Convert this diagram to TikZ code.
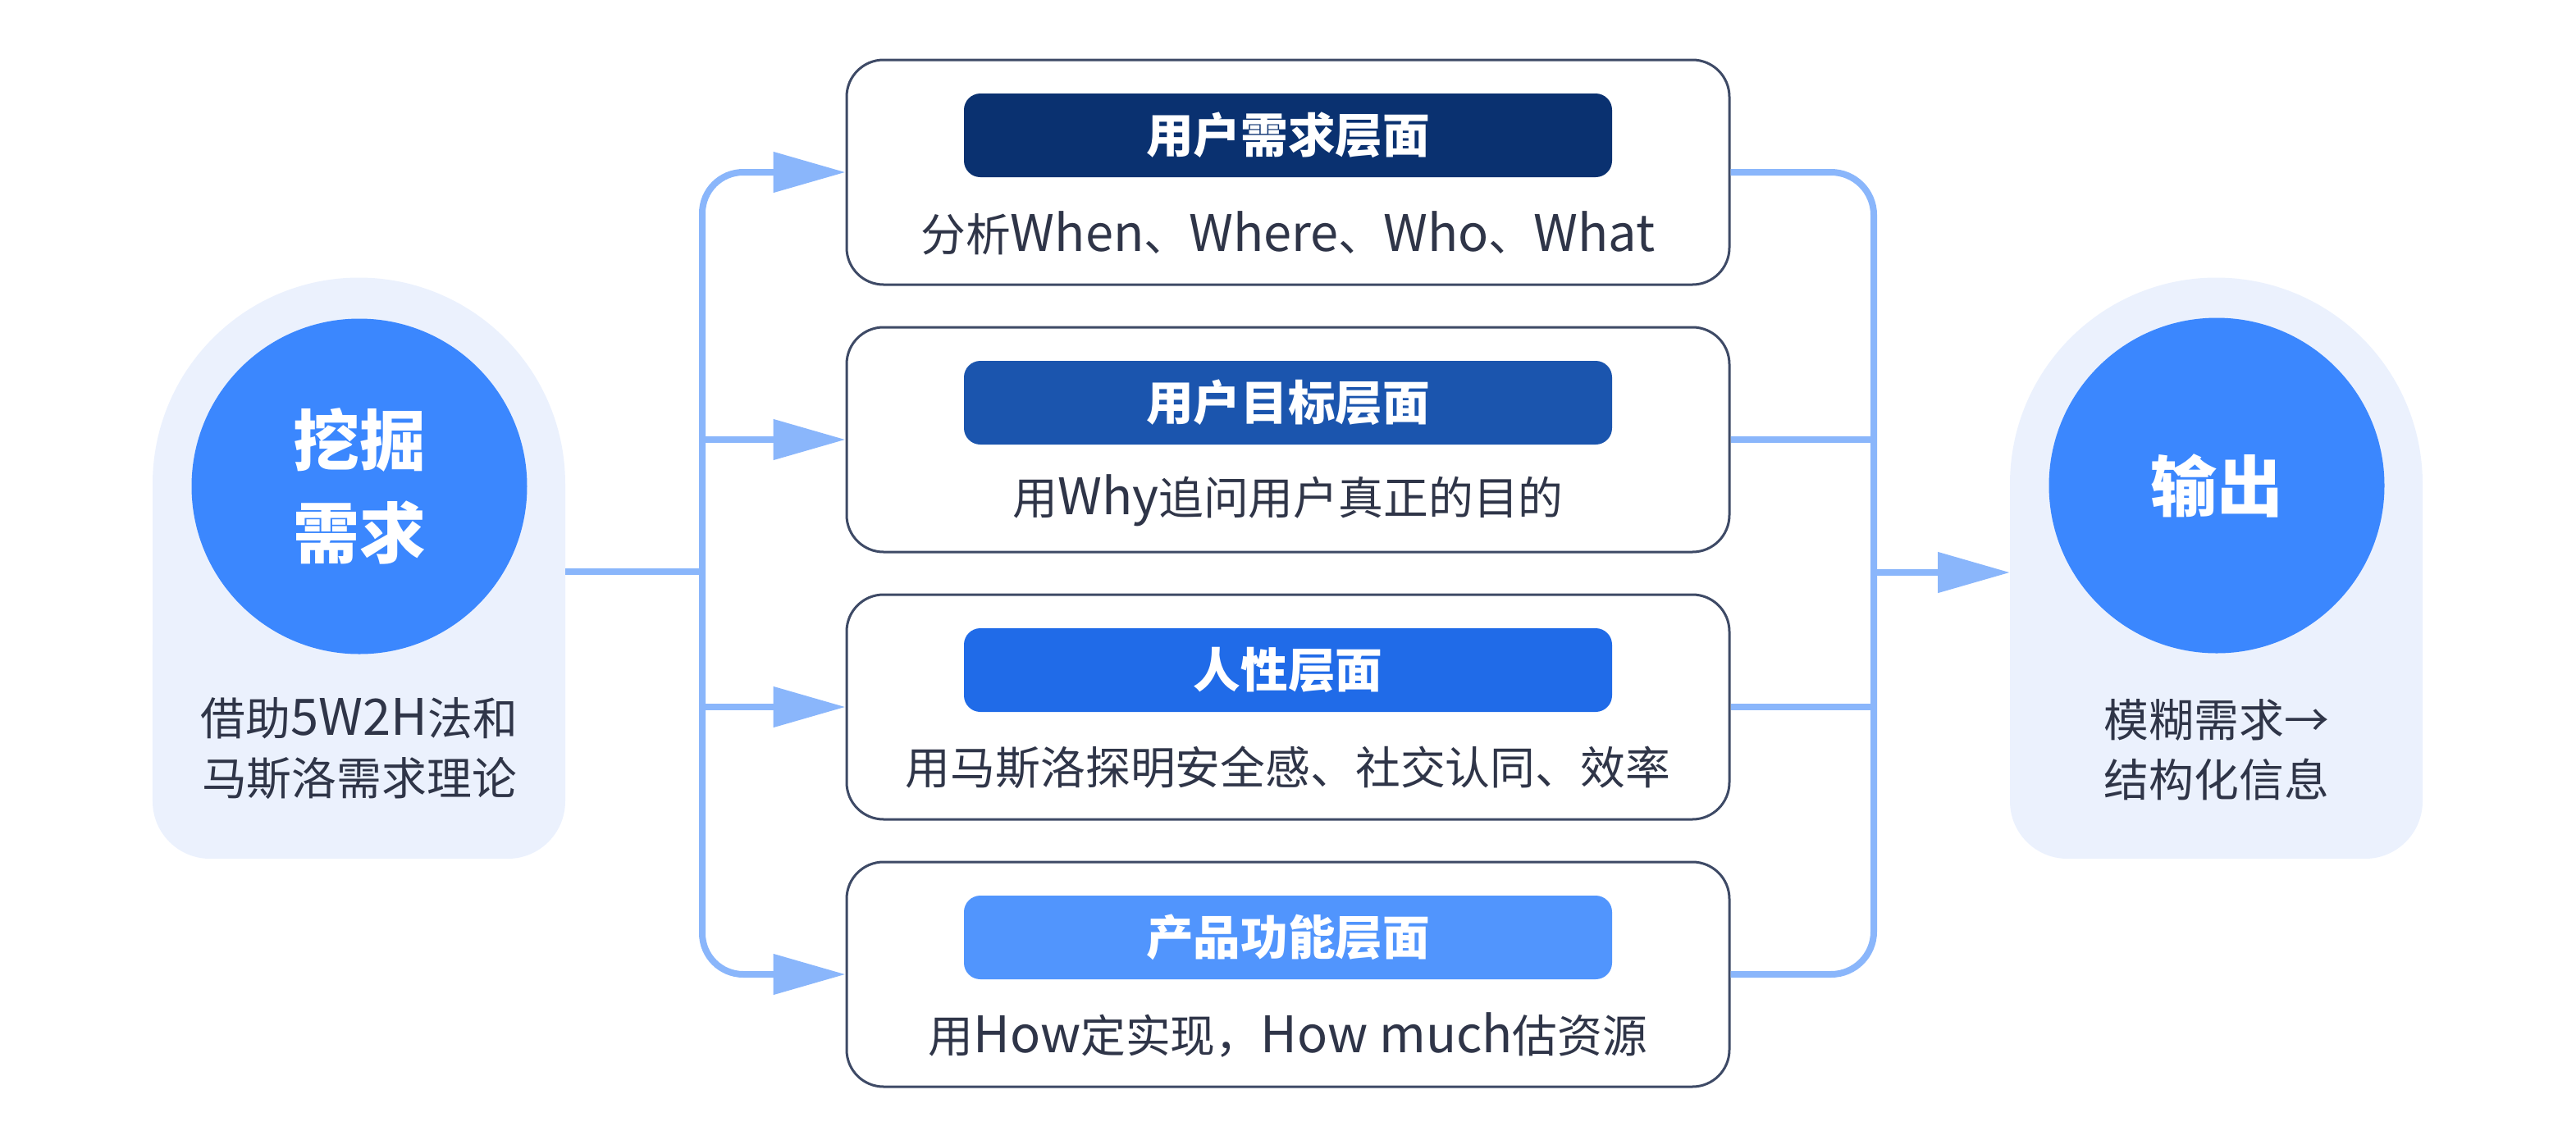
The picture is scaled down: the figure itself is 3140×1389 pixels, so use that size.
\documentclass[tikz,border=0pt]{standalone}
\usepackage{fontspec}
\setmainfont{Noto Sans CJK SC}
\newfontfamily\latfont{Noto Sans CJK SC}[Scale=1.12]
\newcommand\wordlat[1]{{\latfont #1}}
\usetikzlibrary{positioning,arrows.meta}

\definecolor{ink}{HTML}{2F3548}
\definecolor{edge}{HTML}{3E4A66}
\definecolor{linkblue}{HTML}{8AB6FB}
\definecolor{discblue}{HTML}{3B87FE}
\definecolor{panelbg}{HTML}{EBF1FD}
\definecolor{tagA}{HTML}{0A3170}
\definecolor{tagB}{HTML}{1B55AE}
\definecolor{tagC}{HTML}{206BE8}
\definecolor{tagD}{HTML}{5195FD}

\begin{document}
\begin{tikzpicture}
[x=0.1mm,y=-0.1mm,
every node/.style={align=center,text=ink,font=\fontsize{15.6}{20.8}\selectfont},
layer/.style={shape=rectangle,rounded corners=4.5mm,draw=edge,line width=0.3mm,fill=white,minimum width=107.6mm,minimum height=27.4mm},
tag/.style={shape=rectangle,rounded corners=2mm,minimum width=79mm,minimum height=10.2mm,inner sep=0pt,text=white,font=\fontsize{16.4}{18}\selectfont\bfseries},
disc/.style={circle,fill=discblue,minimum size=40.9mm,inner sep=0pt,text=white,font=\fontsize{23}{32}\selectfont\bfseries},
link/.style={draw=linkblue,line width=0.8mm},
tip/.style={-{Triangle[length=8.8mm,width=4.8mm]}}]

\useasboundingbox (0,0) rectangle (3140,1389);

% side panels
\foreach \px in {186,2450}
  \fill[panelbg] (\px,590) arc[start angle=180,end angle=0,radius=25.15mm]
    -- ++(0,387) arc[start angle=0,end angle=-90,radius=7mm]
    -- ++(-363,0) arc[start angle=270,end angle=180,radius=7mm] -- cycle;

\node[disc] (dig) at (438,593) {挖掘\\需求};
\node (digtxt) at (438,913) {借助\wordlat{5W2H}法和\\马斯洛需求理论};
\node[disc] (out) at (2702,592) {输出};
\node (outtxt) at (2702,914) {模糊需求→\\结构化信息};

% the four layers
\node[layer] (need) at (1570,210) {};
\node[layer,below=4.9mm of need] (goal) {};
\node[layer,below=4.9mm of goal] (human) {};
\node[layer,below=4.9mm of human] (func) {};

\node[tag,fill=tagA] (needtag) at ([yshift=4.5mm]need.center) {用户需求层面};
\node[tag,fill=tagB] (goaltag) at ([yshift=4.5mm]goal.center) {用户目标层面};
\node[tag,fill=tagC] (humantag) at ([yshift=4.5mm]human.center) {人性层面};
\node[tag,fill=tagD] (functag) at ([yshift=4.5mm]func.center) {产品功能层面};

\node (needtxt) at ([yshift=-7.4mm]need.center) {分析\wordlat{When}、\wordlat{Where}、\wordlat{Who}、\wordlat{What}};
\node (goaltxt) at ([yshift=-7.4mm]goal.center) {用\wordlat{Why}追问用户真正的目的};
\node (humantxt) at ([yshift=-7.4mm]human.center) {用马斯洛探明安全感、社交认同、效率};
\node (functxt) at ([yshift=-7.4mm]func.center) {用\wordlat{How}定实现，\wordlat{How much}估资源};

% connectors
\coordinate (digout) at (689,697);
\coordinate (trunkL) at (856,697);
\coordinate (trunkR) at (2284,698);
\coordinate (outin) at (2450,698);

\draw[link] (digout) -- (trunkL);
\draw[link,tip,rounded corners=5mm] (trunkL) |- (need.west);
\draw[link,tip] (trunkL |- goal.west) -- (goal.west);
\draw[link,tip] (trunkL |- human.west) -- (human.west);
\draw[link,tip,rounded corners=5mm] (trunkL) |- (func.west);

\draw[link,rounded corners=5.2mm] (need.east) -| (trunkR);
\draw[link] (goal.east) -- (trunkR |- goal.east);
\draw[link] (human.east) -- (trunkR |- human.east);
\draw[link,rounded corners=5.2mm] (func.east) -| (trunkR);
\draw[link,tip] (trunkR) -- (outin);
\end{tikzpicture}
\end{document}
